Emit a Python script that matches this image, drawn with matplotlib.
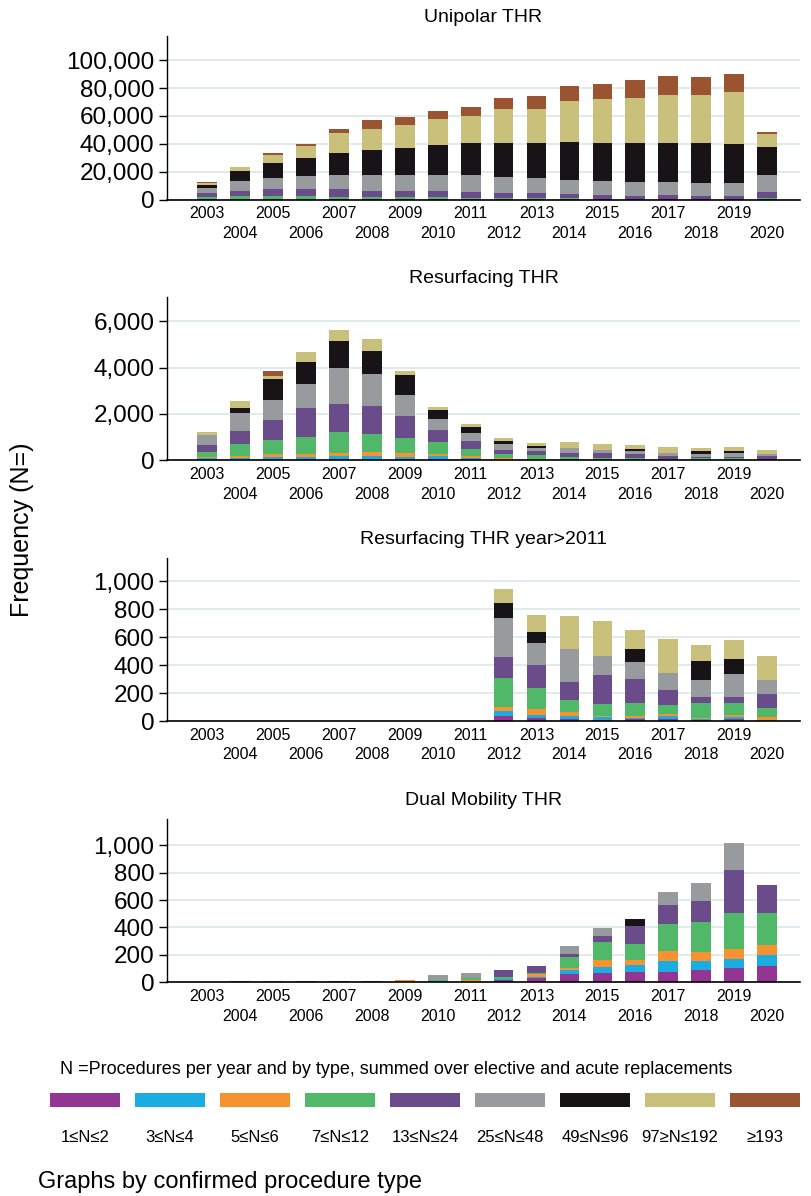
import matplotlib
matplotlib.use("Agg")
import matplotlib.pyplot as plt
from matplotlib.patches import Rectangle
import numpy as np

plt.rcParams["font.family"] = ["Liberation Sans", "DejaVu Sans"]

years = list(range(2003, 2021))
categories = ["1≤N≤2", "3≤N≤4", "5≤N≤6", "7≤N≤12", "13≤N≤24",
              "25≤N≤48", "49≤N≤96", "97≥N≤192", "≥193"]
colors = ["#923593", "#1badE2", "#f6922f", "#50b868", "#694c89",
          "#979b9e", "#171317", "#c9c07b", "#9b5431"]

# Unipolar THR
uni_1_2 = [50, 50, 50, 50, 50, 50, 50, 50, 50, 60, 60, 60, 60, 80, 80, 80, 80, 50]
uni_3_4 = [50, 50, 50, 50, 50, 50, 50, 50, 50, 60, 60, 60, 60, 80, 80, 80, 80, 50]
uni_5_6 = [50, 50, 50, 50, 50, 50, 50, 50, 50, 100, 100, 100, 120, 150, 150, 150, 150, 80]
uni_7_12 = [1300, 2100, 2100, 2100, 1300, 1300, 1300, 1300, 600, 550, 550, 550, 400, 200, 200, 200, 200, 600]
uni_13_24 = [2900, 3600, 5000, 5000, 5800, 5000, 4300, 4300, 4600, 3600, 3600, 3400, 2900, 2200, 2900, 2200, 2200, 4300]
uni_25_48 = [3600, 7200, 8400, 9400, 10600, 10800, 12200, 11500, 12000, 11500, 10800, 9600, 10000, 10000, 9400, 9400, 9400, 12200]
uni_49_96 = [2200, 7200, 10300, 13000, 15400, 18000, 18700, 21600, 23000, 24500, 25200, 27400, 27400, 28000, 28000, 28800, 28000, 20200]
uni_97_192 = [1700, 2900, 5800, 8600, 14400, 15600, 16600, 18700, 19400, 24500, 24500, 29500, 31000, 32400, 34600, 34100, 37000, 9400]
uni_193 = [500, 0, 1500, 1400, 2900, 6000, 5800, 5800, 6500, 7900, 9400, 10800, 10800, 13000, 13000, 13000, 13000, 1400]

# Resurfacing THR
res_1_2 = [30, 20, 43, 43, 43, 43, 43, 43, 43, 20, 20, 20, 0, 0, 0, 0, 0, 43]
res_3_4 = [50, 90, 100, 100, 144, 144, 100, 144, 72, 0, 0, 0, 0, 0, 0, 0, 0, 0]
res_5_6 = [43, 86, 130, 130, 130, 173, 173, 86, 72, 80, 23, 0, 0, 0, 0, 0, 0, 0]
res_7_12 = [216, 504, 604, 734, 907, 777, 648, 518, 302, 173, 187, 144, 100, 100, 58, 100, 100, 0]
res_13_24 = [317, 561, 863, 1252, 1209, 1209, 950, 518, 345, 173, 173, 130, 216, 173, 130, 43, 43, 144]
res_25_48 = [432, 777, 863, 1022, 1554, 1381, 907, 475, 345, 259, 130, 216, 130, 130, 130, 130, 173, 86]
res_49_96 = [0, 216, 921, 964, 1166, 993, 863, 389, 259, 130, 86, 0, 0, 86, 0, 130, 86, 0]
res_97_192 = [130, 302, 115, 432, 475, 518, 173, 130, 130, 130, 130, 259, 259, 173, 259, 130, 173, 173]
res_193 = [0, 0, 230, 0, 0, 0, 0, 0, 0, 0, 0, 0, 0, 0, 0, 0, 0, 0]

# Resurfacing THR, years after 2011
r11_1_2 = [0] * 9 + [36, 21, 14, 7, 14, 14, 7, 14, 0]
r11_3_4 = [0] * 9 + [36, 21, 21, 21, 7, 21, 7, 14, 7]
r11_5_6 = [0] * 9 + [29, 43, 29, 7, 14, 14, 7, 14, 21]
r11_7_12 = [0] * 9 + [207, 150, 86, 86, 93, 64, 107, 86, 64]
r11_13_24 = [0] * 9 + [150, 164, 129, 207, 171, 107, 43, 43, 100]
r11_25_48 = [0] * 9 + [279, 157, 236, 136, 121, 121, 121, 164, 100]
r11_49_96 = [0] * 9 + [107, 79, 0, 0, 93, 0, 136, 107, 0]
r11_97_192 = [0] * 9 + [100, 121, 236, 250, 136, 243, 114, 136, 171]
r11_193 = [0] * 18

# Dual Mobility THR
dm_1_2 = [0, 0, 0, 0, 0, 0, 0, 0, 5, 15, 32, 58, 68, 73, 73, 88, 102, 117]
dm_3_4 = [0, 0, 6, 0, 0, 0, 0, 8, 0, 7, 7, 29, 41, 51, 80, 66, 66, 80]
dm_5_6 = [0, 0, 0, 0, 0, 0, 17, 0, 12, 0, 22, 15, 51, 36, 73, 66, 73, 73]
dm_7_12 = [0, 0, 0, 0, 0, 0, 0, 9, 12, 15, 7, 80, 131, 117, 197, 219, 263, 233]
dm_13_24 = [0, 10, 5, 10, 10, 10, 0, 0, 0, 51, 49, 22, 44, 131, 139, 153, 314, 204]
dm_25_48 = [0, 0, 0, 0, 0, 0, 0, 36, 36, 0, 0, 58, 58, 0, 95, 131, 197, 0]
dm_49_96 = [0, 0, 0, 0, 0, 0, 0, 0, 0, 0, 0, 0, 0, 51, 0, 0, 0, 0]
dm_97_192 = [0] * 18
dm_193 = [0] * 18

panels = [
    ("Unipolar THR",
     [uni_1_2, uni_3_4, uni_5_6, uni_7_12, uni_13_24, uni_25_48, uni_49_96, uni_97_192, uni_193],
     117460, [0, 20000, 40000, 60000, 80000, 100000], 199.5),
    ("Resurfacing THR",
     [res_1_2, res_3_4, res_5_6, res_7_12, res_13_24, res_25_48, res_49_96, res_97_192, res_193],
     7058, [0, 2000, 4000, 6000], 460.3),
    ("Resurfacing THR year>2011",
     [r11_1_2, r11_3_4, r11_5_6, r11_7_12, r11_13_24, r11_25_48, r11_49_96, r11_97_192, r11_193],
     1168, [0, 200, 400, 600, 800, 1000], 721.0),
    ("Dual Mobility THR",
     [dm_1_2, dm_3_4, dm_5_6, dm_7_12, dm_13_24, dm_25_48, dm_49_96, dm_97_192, dm_193],
     1193, [0, 200, 400, 600, 800, 1000], 982.3),
]

W, H = 811, 1196
fig = plt.figure(figsize=(W / 100, H / 100), dpi=100)


def fx(px):
    return px / W


def fy(py):
    return 1 - py / H


ax_left, ax_right, ax_h = 167, 800, 163.5
x = np.arange(len(years))

for title, series, ymax, ticks, base_px in panels:
    ax = fig.add_axes([fx(ax_left), fy(base_px), fx(ax_right - ax_left), ax_h / H])
    bottom = np.zeros(len(years))
    for vals, col in zip(series, colors):
        vals = np.asarray(vals, dtype=float)
        ax.bar(x, vals, bottom=bottom, width=0.6, color=col, linewidth=0, zorder=2)
        bottom += vals
    ax.set_xlim(-1.22, 18.0)
    ax.set_ylim(0, ymax)
    ax.set_yticks(ticks)
    ax.set_yticklabels([f"{t:,}" for t in ticks])
    ax.yaxis.grid(True, color="#e0ecec", linewidth=1.4, zorder=0)
    ax.set_axisbelow(True)
    for s in ("top", "right"):
        ax.spines[s].set_visible(False)
    ax.spines["left"].set_linewidth(1.0)
    ax.spines["bottom"].set_linewidth(1.2)
    ax.spines["bottom"].set_zorder(3)
    ax.set_xticks(x[::2], [str(y) for y in years[::2]])
    ax.set_xticks(x[1::2], [str(y) for y in years[1::2]], minor=True)
    ax.tick_params(axis="x", which="both", length=0, labelsize=11.5)
    ax.tick_params(axis="x", which="major", pad=5)
    ax.tick_params(axis="x", which="minor", pad=19)
    ax.tick_params(axis="y", direction="out", length=6, width=1.0, labelsize=17.5, pad=3)
    fig.text(fx((ax_left + ax_right) / 2), fy(base_px - 181.5), title,
             ha="center", va="center", fontsize=14)

fig.text(fx(22), fy(530), "Frequency (N=)", rotation=90, ha="center", va="center", fontsize=18)

# legend block
fig.text(fx(60), fy(1070),
         "N =Procedures per year and by type, summed over elective and acute replacements",
         ha="left", va="center", fontsize=13)
for k, (lab, col) in enumerate(zip(categories, colors)):
    x0 = 50 + 85 * k
    fig.add_artist(Rectangle((fx(x0), fy(1107)), fx(70), 14 / H,
                             transform=fig.transFigure, facecolor=col, edgecolor="none"))
    fig.text(fx(x0 + 35), fy(1137), lab, ha="center", va="center", fontsize=12)

fig.text(fx(38), fy(1182), "Graphs by confirmed procedure type", ha="left", va="center", fontsize=17)

fig.savefig("out.png", dpi=100)
